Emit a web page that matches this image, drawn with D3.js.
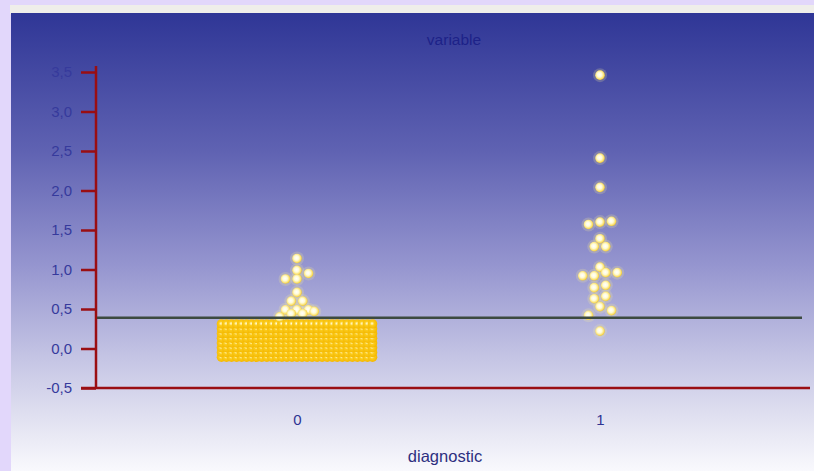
<!DOCTYPE html>
<html><head><meta charset="utf-8">
<script src="https://cdn.jsdelivr.net/npm/d3@7"></script>
<style>
html,body{margin:0;padding:0;background:#e2d7fb;overflow:hidden;}
svg{display:block;font-family:"Liberation Sans",Arial,sans-serif;}
</style></head>
<body>
<svg id="c" width="814" height="471"></svg>
<script>
// ---- data ----
const categories = ["0", "1"];
const yTicks = [-0.5, 0, 0.5, 1.0, 1.5, 2.0, 2.5, 3.0, 3.5];
const cutoff = 0.39;
// category 0: sparse high values, grouped by display row (left to right)
const cat0Rows = [[1.14],[0.99],[0.88,0.88,0.95],[0.71],[0.60,0.60],[0.49,0.49,0.49],[0.40,0.44,0.44,0.47]];
// category 0: dense rows (value, number of points)
const cat0DenseValues = [-0.11,-0.05,0.01,0.07,0.13,0.19,0.25,0.31];
const cat0DenseCounts = [31,31,31,31,31,31,31,31];
// category 1
const cat1Rows = [[3.46],[2.41],[2.04],[1.57,1.60,1.61],[1.39],[1.29,1.29],[1.03],[0.92,0.92,0.96,0.96],[0.77,0.80],[0.63,0.66],[0.42,0.53,0.48],[0.22]];

// ---- layout ----
const svg = d3.select("#c");
const W = 814, H = 471;
const defs = svg.append("defs");
const bg = defs.append("linearGradient").attr("id","bg").attr("x1",0).attr("y1",0).attr("x2",0).attr("y2",1);
[[0,"#2f3696"],[0.3,"#5f62b2"],[0.55,"#9595cf"],[0.75,"#c4c4e4"],[0.9,"#e4e4f2"],[1,"#f9f9fd"]]
  .forEach(([o,c])=>bg.append("stop").attr("offset",o).attr("stop-color",c));
function radial(id, stops){
  const g = defs.append("radialGradient").attr("id",id).attr("cx","45%").attr("cy","45%").attr("r","55%");
  stops.forEach(([o,c])=>g.append("stop").attr("offset",o).attr("stop-color",c));
}
radial("dot",[[0,"#ffffff"],[0.45,"#fffbd6"],[0.78,"#fbe47a"],[1,"#f1c935"]]);
radial("dotDense",[[0,"#fffbe0"],[0.18,"#ffe98a"],[0.4,"#fbcb1c"],[1,"#f4b800"]]);

svg.append("rect").attr("x",10).attr("y",5).attr("width",W-10).attr("height",9).attr("fill","#efeeea");
svg.append("rect").attr("x",11).attr("y",13).attr("width",W-11).attr("height",H-13).attr("fill","url(#bg)");

const y = d3.scaleLinear().domain([-0.5,3.5]).range([388,72]);
const x = d3.scalePoint().domain(categories).range([297,600]);

const axisColor = "#9a0e12";
// y axis
const ya = svg.append("g").attr("transform","translate(96,0)")
  .call(d3.axisLeft(y).tickValues(yTicks).tickSize(15).tickPadding(9)
    .tickFormat(d=>d3.format(".1f")(d).replace(".",",").replace("\u2212","-")));
ya.select(".domain").remove();
ya.selectAll(".tick line").attr("stroke",axisColor).attr("stroke-width",2.5);
ya.selectAll(".tick text").attr("fill","#363a9c").attr("font-size",15);
svg.append("line").attr("x1",96).attr("x2",96).attr("y1",66).attr("y2",388)
  .attr("stroke",axisColor).attr("stroke-width",2.5);
// x axis
svg.append("line").attr("x1",81).attr("x2",810).attr("y1",388).attr("y2",388)
  .attr("stroke",axisColor).attr("stroke-width",2.5);
const xa = svg.append("g").attr("transform","translate(0,388)")
  .call(d3.axisBottom(x).tickSize(0).tickPadding(26));
xa.select(".domain").remove();
xa.selectAll(".tick text").attr("fill","#2f3392").attr("font-size",15);

svg.append("text").attr("x",454).attr("y",45).attr("text-anchor","middle")
  .attr("fill","#1d2288").attr("font-size",15.5).text("variable");
svg.append("text").attr("x",445).attr("y",462).attr("text-anchor","middle")
  .attr("fill","#2d2f80").attr("font-size",16.5).text("diagnostic");

// points
const pts = [];
const spacing = 11.5, maxW = 151;
function addRows(cat, rows, dense){
  rows.forEach(r=>{
    const n = r.length;
    const s = n>1 ? Math.min(spacing, maxW/(n-1)) : 0;
    r.forEach((v,i)=>pts.push({cat, v, dense, dx:(i-(n-1)/2)*s}));
  });
}
const denseRows = cat0DenseValues.map((v,k)=>d3.range(cat0DenseCounts[k]).map(()=>v));
addRows("0", denseRows, true);
addRows("0", cat0Rows, false);
addRows("1", cat1Rows, false);

const dots = svg.append("g");
dots.selectAll("circle.h").data(pts.filter(d=>!d.dense)).join("circle")
  .attr("cx",d=>x(d.cat)+d.dx).attr("cy",d=>y(d.v)).attr("r",7)
  .attr("fill","#f7ec9a").attr("opacity",0.22);
dots.selectAll("circle.d").data(pts).join("circle")
  .attr("cx",d=>x(d.cat)+d.dx).attr("cy",d=>y(d.v)).attr("r",4.8)
  .attr("fill",d=>d.dense ? "url(#dotDense)" : "url(#dot)");

// cutoff line
svg.append("line").attr("x1",97).attr("x2",802).attr("y1",y(cutoff)).attr("y2",y(cutoff))
  .attr("stroke","#3c4a40").attr("stroke-width",2.5);
</script>
</body></html>
